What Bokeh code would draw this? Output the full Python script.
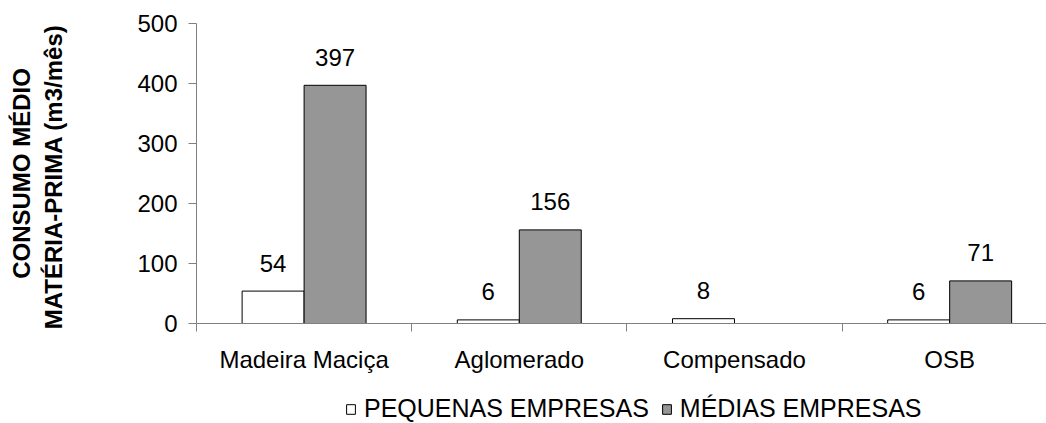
from bokeh.plotting import figure
from bokeh.layouts import column
from bokeh.models import Range1d, FixedTicker, Legend, LegendItem, ColumnDataSource
from bokeh.core.properties import value
from bokeh.embed import file_html
from bokeh.resources import INLINE

categories = ["Madeira Maciça", "Aglomerado", "Compensado", "OSB"]
pequenas = [54, 6, 8, 6]
medias = [397, 156, None, 71]
series_names = ["PEQUENAS EMPRESAS", "MÉDIAS EMPRESAS"]
y_ticks = [0, 100, 200, 300, 400, 500]

FONT = "Liberation Sans"
FS = "24px"
BAR_W = 0.288
WHITE = "white"
GRAY = "#969696"

p = figure(width=1046, height=375, output_backend="svg", toolbar_location=None,
           x_range=Range1d(0, 3.95), y_range=Range1d(0, 500),
           min_border_left=196, min_border_right=0, min_border_top=23, min_border_bottom=52)
p.outline_line_color = None
p.grid.grid_line_color = None

centers = [i + 0.5 for i in range(len(categories))]
xs_p = [c - BAR_W / 2 for c in centers]
xs_m = [c + BAR_W / 2 for c in centers]

src_p = ColumnDataSource(dict(x=xs_p, top=pequenas, lab=[str(v) for v in pequenas]))
mx = [x for x, v in zip(xs_m, medias) if v is not None]
mv = [v for v in medias if v is not None]
src_m = ColumnDataSource(dict(x=mx, top=mv, lab=[str(v) for v in mv]))

p.vbar(x="x", top="top", bottom=0, width=BAR_W, source=src_p,
       fill_color=WHITE, line_color="black", line_width=1)
p.vbar(x="x", top="top", bottom=0, width=BAR_W, source=src_m,
       fill_color=GRAY, line_color="black", line_width=1)

for s in (src_p, src_m):
    p.text(x="x", y="top", text="lab", source=s, text_align="center",
           text_baseline="alphabetic", y_offset=-28,
           text_font=value(FONT), text_font_size=FS, text_color="black")

# x axis
xa = p.xaxis[0]
xa.ticker = FixedTicker(ticks=centers, minor_ticks=[0, 1, 2, 3, 4])
xa.major_label_overrides = {c: lab for c, lab in zip(centers, categories)}
xa.major_tick_out = 0
xa.major_tick_in = 0
xa.minor_tick_out = 8
xa.minor_tick_in = 0
xa.axis_line_color = "#808080"
xa.minor_tick_line_color = "#808080"
xa.major_label_text_font = FONT
xa.major_label_text_font_size = FS
xa.major_label_text_color = "black"
xa.major_label_standoff = 14

# y axis
ya = p.yaxis[0]
ya.ticker = FixedTicker(ticks=y_ticks)
ya.minor_tick_line_color = None
ya.major_tick_out = 8
ya.major_tick_in = 0
ya.axis_line_color = "#808080"
ya.major_tick_line_color = "#808080"
ya.major_label_text_font = FONT
ya.major_label_text_font_size = FS
ya.major_label_text_color = "black"
ya.major_label_standoff = 11
ya.axis_label = "CONSUMO MÉDIO\nMATÉRIA-PRIMA  (m3/mês)"
ya.axis_label_text_font = FONT
ya.axis_label_text_font_size = FS
ya.axis_label_text_font_style = "bold"
ya.axis_label_text_color = "black"
ya.axis_label_standoff = 67
ya.axis_label_text_line_height = 1.2

# legend strip below the chart (proxy renderers sit outside the visible range)
q = figure(width=1046, height=48, output_backend="svg", toolbar_location=None,
           x_range=Range1d(0, 1), y_range=Range1d(0, 1),
           x_axis_type=None, y_axis_type=None,
           min_border_left=0, min_border_right=0, min_border_top=0, min_border_bottom=0)
q.outline_line_color = None
q.grid.grid_line_color = None
proxy = ColumnDataSource(dict(x=[-5.0], top=[0.0]))
lr1 = q.vbar(x="x", top="top", width=0.1, source=proxy,
             fill_color=WHITE, line_color="black", line_width=1)
lr2 = q.vbar(x="x", top="top", width=0.1, source=proxy,
             fill_color=GRAY, line_color="black", line_width=1)
legend = Legend(items=[LegendItem(label=series_names[0], renderers=[lr1]),
                       LegendItem(label=series_names[1], renderers=[lr2])],
                orientation="horizontal", location=(149, 0),
                label_text_font=FONT, label_text_font_size="25px", label_text_color="black",
                glyph_width=11, glyph_height=12, label_standoff=8, spacing=12,
                border_line_color=None, background_fill_alpha=0,
                padding=0, margin=0)
q.add_layout(legend, "center")

layout = column(p, q, spacing=0)
open("out.html", "w").write(file_html(layout, INLINE))
